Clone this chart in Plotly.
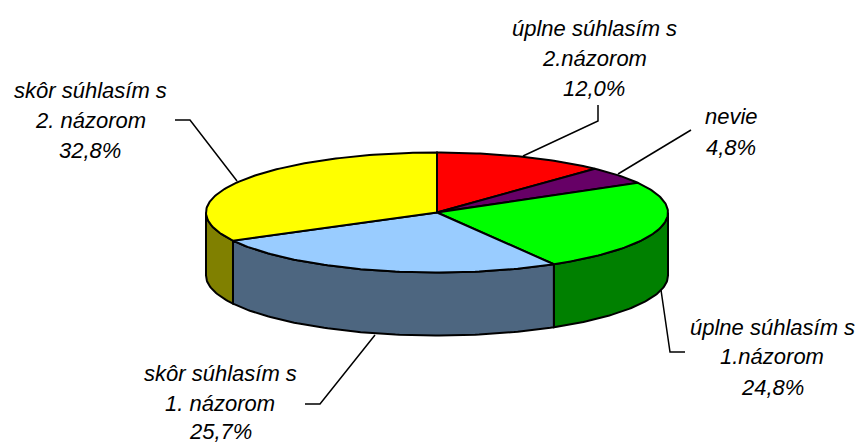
import numpy as np
import plotly.graph_objects as go

categories = ["úplne súhlasím s 2.názorom", "nevie", "úplne súhlasím s 1.názorom",
              "skôr súhlasím s 1. názorom", "skôr súhlasím s 2. názorom"]
values = [12.0, 4.8, 24.8, 25.7, 32.8]
top_colors = ["#ff0000", "#660066", "#00ff00", "#99ccff", "#ffff00"]
side_colors = ["#800000", "#330033", "#008000", "#4d6680", "#808000"]

label_lines = [
    ["úplne súhlasím s", "2.názorom", "12,0%"],
    ["nevie", "4,8%"],
    ["úplne súhlasím s", "1.názorom", "24,8%"],
    ["skôr súhlasím s", "1. názorom", "25,7%"],
    ["skôr súhlasím s", "2. názorom", "32,8%"],
]
label_x = [594, 731, 772, 220, 90]
label_y = [[28, 58, 88], [116, 147], [327, 356, 387], [373, 403, 431], [90, 120, 150]]
leaders = [
    ([523, 598, 598], [156, 121, 105]),
    ([618, 691], [174, 130]),
    ([661, 670, 685], [290, 352, 352]),
    ([375, 320, 305], [335, 404, 404]),
    ([237, 190, 175], [181, 120, 120]),
]

CX, CY, RX, RY, DEPTH = 437, 212.5, 231, 60, 63
OUT = "#000000"


def arc(a0, a1, dy=0.0):
    n = max(2, int(abs(a1 - a0)) + 2)
    t = np.radians(np.linspace(a0, a1, n))
    return CX + RX * np.sin(t), CY - RY * np.cos(t) + dy


fig = go.Figure()
edges = np.concatenate([[0], np.cumsum(values)]) / sum(values) * 360


def poly(x, y, color, name):
    fig.add_trace(go.Scatter(
        x=list(x) + [x[0]], y=list(y) + [y[0]], mode="lines", fill="toself",
        fillcolor=color, line=dict(color=OUT, width=2), name=name,
        hoverinfo="name", showlegend=False))


for lx, ly in leaders:
    fig.add_trace(go.Scatter(x=lx, y=ly, mode="lines", line=dict(color=OUT, width=1.5),
                             hoverinfo="skip", showlegend=False))

for i, name in enumerate(categories):
    a0, a1 = max(edges[i], 90), min(edges[i + 1], 270)
    if a1 > a0:
        x1, y1 = arc(a0, a1)
        x2, y2 = arc(a1, a0, DEPTH)
        poly(np.r_[x1, x2], np.r_[y1, y2], side_colors[i], name)

for i, name in enumerate(categories):
    x1, y1 = arc(edges[i], edges[i + 1])
    poly(np.r_[CX, x1], np.r_[CY, y1], top_colors[i], name)

for lines, x, ys in zip(label_lines, label_x, label_y):
    for text, y in zip(lines, ys):
        fig.add_annotation(x=x, y=y, text=f"<i>{text}</i>", showarrow=False,
                           xanchor="center", yanchor="middle",
                           font=dict(family="Liberation Sans", size=22, color="#000000"))

fig.update_layout(
    width=855, height=444, margin=dict(l=0, r=0, t=0, b=0),
    paper_bgcolor="white", plot_bgcolor="white", showlegend=False,
    xaxis=dict(range=[0, 855], visible=False, fixedrange=True),
    yaxis=dict(range=[444, 0], visible=False, fixedrange=True),
)
fig.write_html("out.html", config=dict(displayModeBar=False),
               post_script="document.body.style.margin='0';document.body.style.overflow='hidden';")
